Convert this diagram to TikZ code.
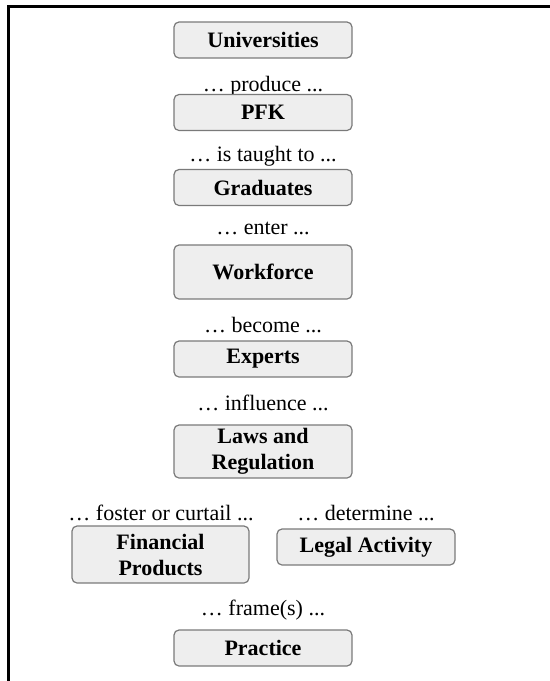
\documentclass[tikz,border=0pt]{standalone}
\usepackage{fontspec}
\setmainfont{Liberation Serif}
\usepackage{tikz}
\usetikzlibrary{positioning}

\definecolor{boxfill}{HTML}{EEEEEE}
\definecolor{boxline}{HTML}{7A7A7A}

\begin{document}
\begin{tikzpicture}[x=0.5pt, y=-0.5pt,
        every node/.style={font=\fontsize{11}{13}\selectfont},
        entity/.style={draw=boxline, fill=boxfill, line width=0.6pt, rounded corners=2.5pt,
            minimum width=89pt, minimum height=18pt, inner sep=0pt, align=center,
            font=\fontsize{11}{13}\selectfont\bfseries},
        verb/.style={inner sep=0pt}]
        \useasboundingbox (0,0) rectangle (550,681);

        % cropped frame
        \draw[line width=1.5pt] (8.7,681) -- (8.7,6.8) -- (550,6.8);

        \node[entity] (univ) at (263,40) {Universities};
        \node[verb] (lblproduce) at (263,86) {… produce ...};
        \node[entity] (pfk) at (263,112.5) {PFK};
        \node[verb] (lbltaught) at (263,156) {… is taught to ...};
        \node[entity] (grad) at (263,187.5) {Graduates};
        \node[verb] (lblenter) at (263,228) {… enter ...};
        \node[entity, minimum height=27pt] (work) at (263,272) {Workforce};
        \node[verb] (lblbecome) at (263,325) {… become ...};
        \node[entity] (expert) at (263,359) {Experts};
        \node[verb] (lblinfluence) at (263,403) {… influence ...};
        \node[entity, minimum height=26.5pt] (laws) at (263,451.5) {Laws and\\Regulation};

        \node[verb] (lblfoster) at (161,513) {… foster or curtail ...};
        \node[verb] (lbldetermine) at (366,513) {… determine ...};
        \node[entity, minimum width=88.5pt, minimum height=28.5pt] (finprod) at (160.5,554.5) {Financial\\Products};
        \node[entity] (legal) at (366,547) {Legal Activity};

        \node[verb] (lblframe) at (263,610) {… frame(s) ...};
        \node[entity] (practice) at (263,648) {Practice};

    \end{tikzpicture}
\end{document}
